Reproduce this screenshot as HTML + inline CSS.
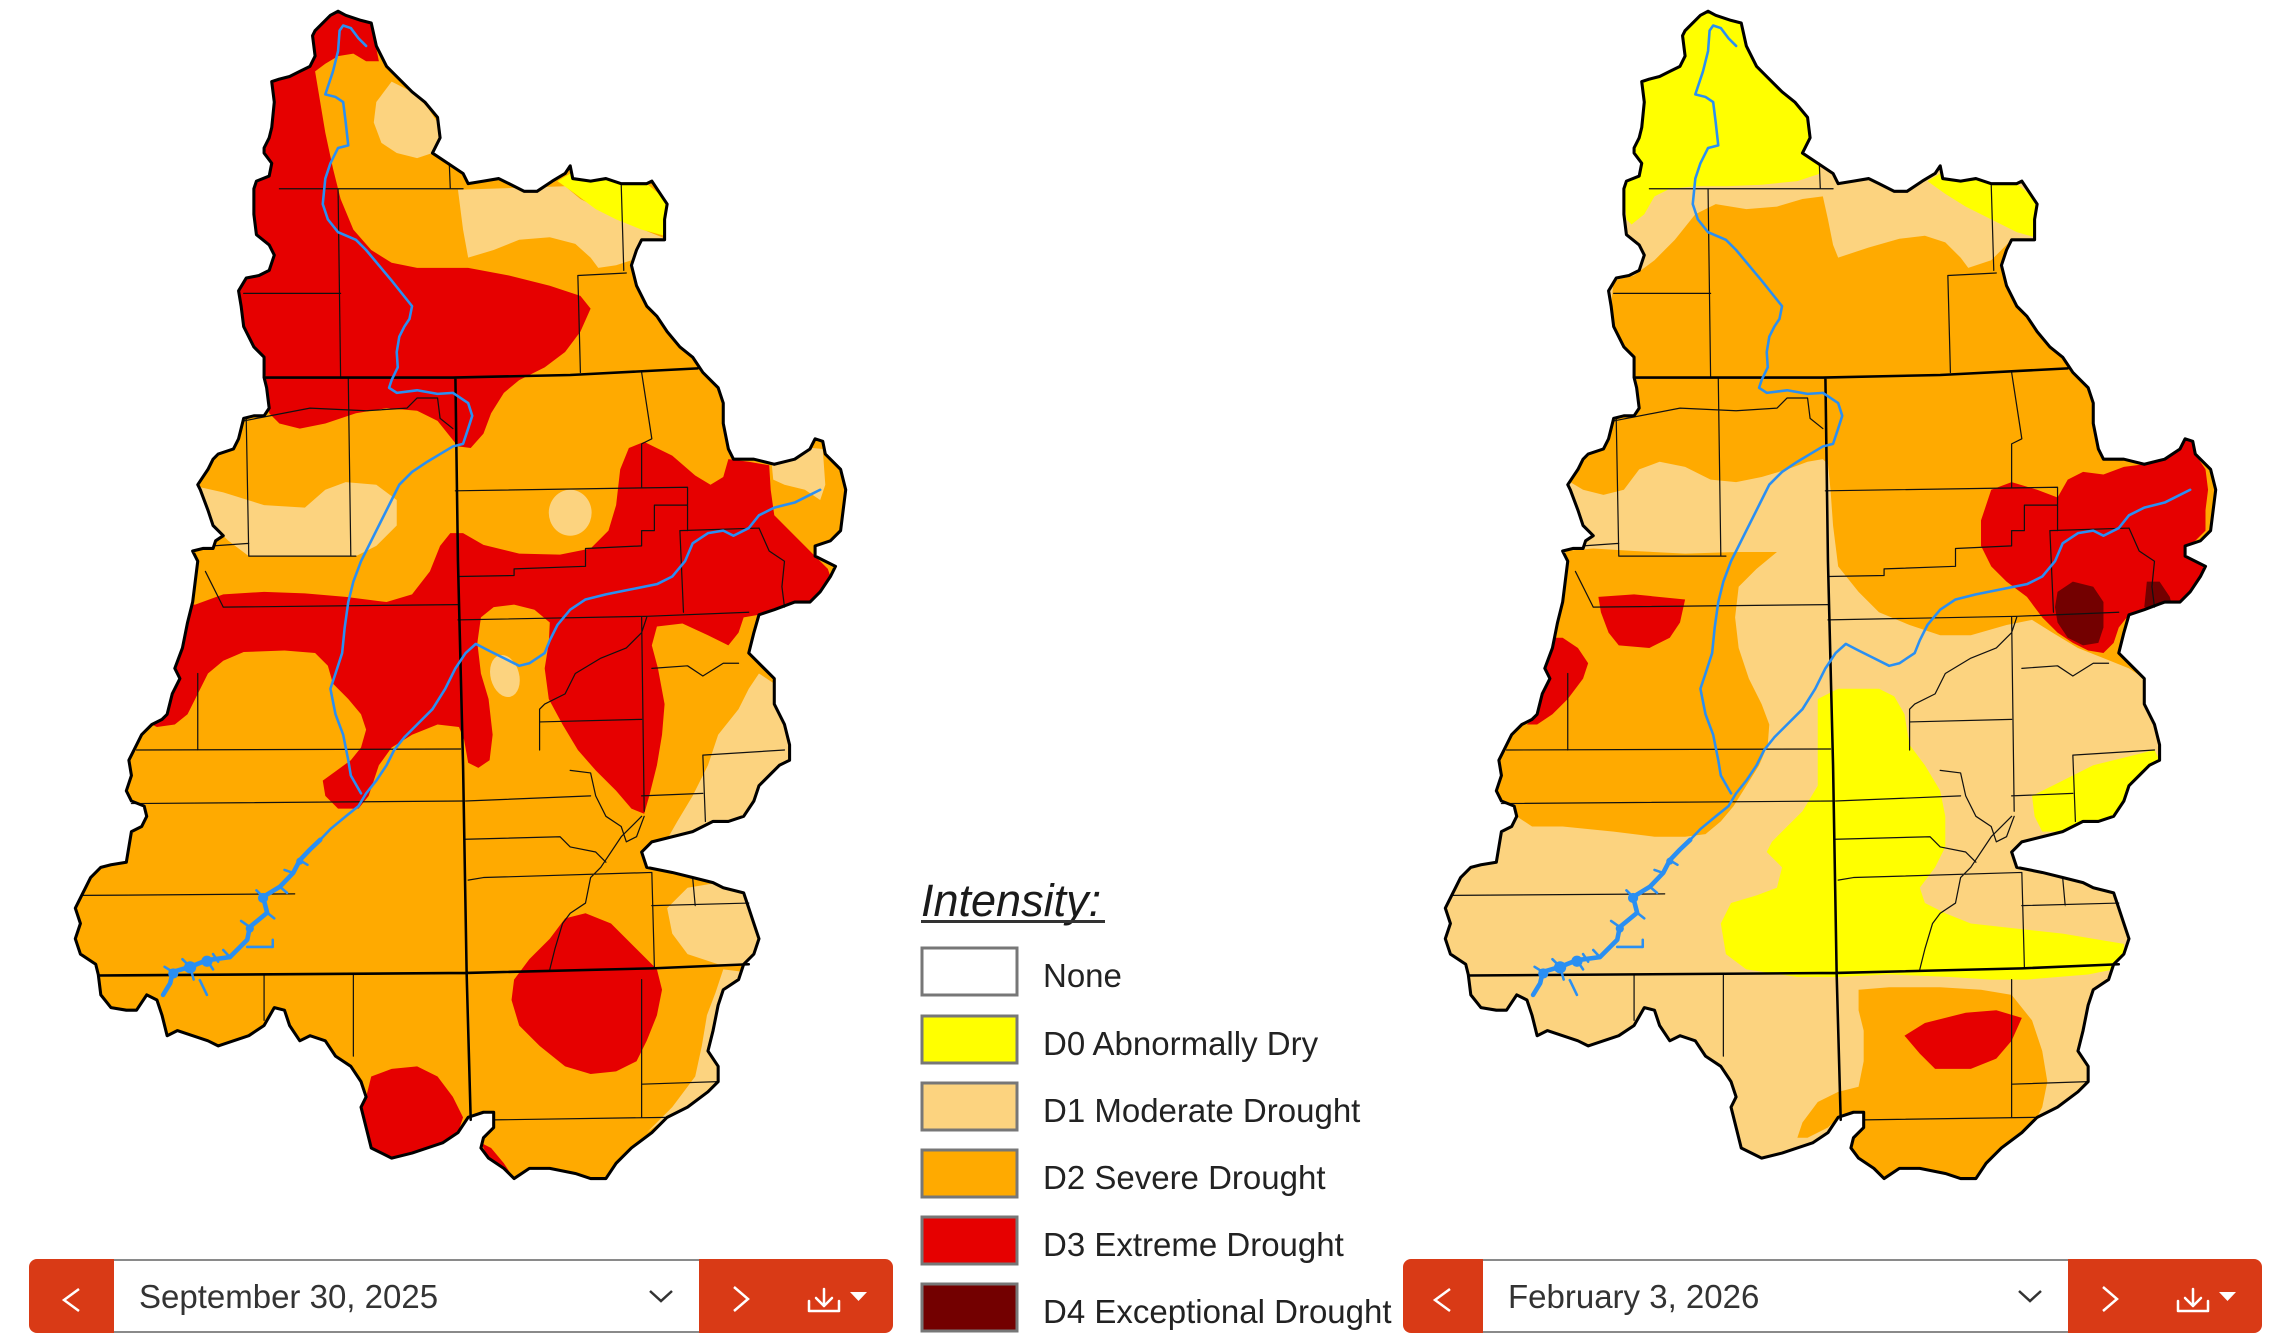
<!DOCTYPE html>
<html>
<head>
<meta charset="utf-8">
<style>
html,body{margin:0;padding:0;background:#fff;overflow:hidden;}
svg{display:block;}
</style>
</head>
<body>
<svg width="2287" height="1342" viewBox="0 0 2287 1342" xmlns="http://www.w3.org/2000/svg">
<defs>
<polygon id="outline" points="500,60 530,30 545,22 560,30 590,40 610,45 620,90 640,130 660,150 690,180 715,200 740,230 745,270 730,300 760,320 790,340 800,360 830,355 860,350 880,360 910,375 935,375 965,355 990,340 1000,325 1005,350 1040,355 1070,350 1100,360 1150,360 1160,355 1180,385 1190,400 1185,430 1185,470 1140,470 1130,490 1120,520 1130,560 1150,600 1170,620 1190,650 1215,680 1240,700 1260,730 1290,760 1300,790 1300,830 1310,880 1320,900 1360,900 1400,910 1440,900 1470,880 1480,860 1495,865 1500,890 1530,920 1540,960 1535,1000 1530,1040 1510,1060 1480,1070 1480,1090 1500,1100 1520,1110 1510,1130 1490,1160 1470,1180 1440,1180 1400,1195 1370,1205 1360,1240 1350,1280 1380,1310 1400,1330 1400,1380 1420,1420 1430,1460 1430,1490 1410,1500 1390,1520 1370,1540 1360,1570 1340,1600 1310,1610 1280,1610 1240,1630 1200,1640 1160,1650 1140,1670 1150,1700 1200,1710 1240,1720 1280,1730 1300,1740 1340,1750 1350,1780 1360,1810 1370,1840 1360,1870 1340,1890 1330,1920 1300,1940 1290,1970 1280,2020 1270,2060 1290,2090 1290,2120 1270,2140 1230,2170 1190,2190 1160,2220 1120,2250 1090,2280 1070,2310 1040,2310 1010,2300 960,2290 920,2290 890,2310 870,2290 840,2270 825,2250 830,2230 850,2210 850,2180 830,2180 800,2190 780,2220 750,2240 720,2250 690,2260 650,2270 610,2250 600,2210 590,2170 600,2150 590,2120 570,2090 540,2070 520,2040 490,2030 470,2040 450,2010 440,1980 420,1975 400,2010 370,2030 340,2040 310,2050 290,2040 260,2030 230,2020 210,2030 200,1990 190,1960 170,1950 150,1980 130,1980 100,1975 80,1950 75,1910 70,1890 40,1870 30,1840 40,1810 30,1780 45,1750 60,1720 80,1700 100,1695 130,1690 135,1660 140,1630 160,1620 170,1600 165,1580 140,1570 130,1550 140,1520 135,1490 150,1460 160,1440 180,1420 200,1410 210,1400 220,1360 235,1330 225,1310 240,1270 250,1220 260,1180 265,1140 270,1100 260,1080 280,1075 300,1075 305,1060 320,1050 300,1030 290,1000 275,960 270,950 290,920 300,900 310,890 340,880 350,860 360,820 380,815 400,815 410,800 405,760 400,740 400,700 380,680 360,640 355,600 350,570 365,545 390,540 410,530 420,500 410,480 385,460 380,420 380,370 385,355 410,345 415,320 400,300 400,290 410,270 415,250 420,200 415,160 430,155 450,150 470,140 490,130 500,110 495,70"/>
<clipPath id="clip"><use href="#outline"/></clipPath>
<g id="lines" fill="none" stroke-linejoin="round" stroke-linecap="round">
  <g stroke="#111" stroke-width="2.4">
    <path d="M430,370 L790,370 M545,370 L550,740 M360,575 L550,575 M763,320 L765,370 M1100,362 L1105,530 M1015,540 L1110,535 M1015,540 L1020,730"/>
    <path d="M565,740 L570,1090 M360,825 L490,800 L600,805 L680,800 L700,780 L740,780 L745,820 L770,840 M365,820 L370,1090 M370,1090 L580,1090 M300,1070 L370,1065 M285,1120 L320,1190 M320,1190 L780,1185 M270,1320 L270,1470 M150,1470 L785,1468 M140,1575 L790,1570 M45,1755 L460,1752"/>
    <path d="M775,962 L1230,955 M1140,730 L1160,860 L1140,870 L1140,955 M1230,955 L1230,1040 M780,1130 L890,1128 L890,1115 L1030,1110 L1030,1075 L1140,1070 L1140,1040 L1165,1040 L1165,990 L1230,990 M1215,1040 L1370,1035 M1215,1040 L1222,1200 M1370,1035 L1390,1080 L1420,1100 L1415,1150 L1420,1190 M780,1215 L1150,1208 L1350,1200 M1150,1210 L1140,1240 L1110,1270 L1060,1290 L1010,1320 L990,1360 L950,1380 L940,1390 M940,1390 L940,1470 M940,1415 L1140,1410 M1140,1210 L1145,1590 M1160,1310 L1230,1305 L1260,1325 L1300,1300 L1330,1300 M1260,1480 L1420,1470 M1260,1480 L1265,1610 M1000,1510 L1040,1515 L1050,1560 L1070,1600 L1100,1620 L1110,1650 L1130,1640 L1145,1600 M1140,1560 L1260,1555 M795,1570 L1040,1560 M795,1645 L980,1640 L1000,1660 L1050,1670 L1070,1690 M1140,1600 L1100,1640 L1060,1700 L1040,1720 L1030,1770 L1000,1790 L985,1810 L970,1860 L960,1900 M800,1725 L830,1720 L1160,1710 M1160,1710 L1165,1895 M1160,1775 L1350,1770 M1240,1720 L1245,1775"/>
    <path d="M400,1910 L400,2000 M575,1910 L575,2070 M1140,1920 L1140,2190 M1140,2125 L1290,2120 M850,2195 L1190,2190"/>
  </g>
  <g stroke="#000" stroke-width="5">
    <path d="M400,740 L770,740 L1000,735 L1250,722 M775,740 L780,1100 L790,1500 L797,1907 L805,2195 M75,1912 L797,1907 L1160,1898 L1350,1890"/>
  </g>
</g>
<g id="river" fill="none" stroke="#2A8FF2" stroke-linejoin="round" stroke-linecap="round">
  <path stroke-width="5" d="M600,90 L585,75 570,55 555,50 548,60 545,100 535,140 520,185 540,190 555,200 560,240 565,285 545,290 530,320 520,350 515,400 525,430 545,455 580,470 600,490 625,520 650,550 670,575 690,600 685,625 675,640 665,660 660,690 662,720 650,745 645,760 660,770 700,765 740,772 770,770 800,790 808,815 800,840 790,870 770,875 745,890 720,905 690,925 665,950 650,980 635,1010 620,1040 605,1070 590,1100 575,1140 565,1180 558,1230 553,1280 540,1320 530,1350 540,1400 555,1440 565,1490 570,1520 590,1555"/>
  <path stroke-width="5" d="M1490,960 L1460,975 1440,985 1400,995 1370,1010 1350,1035 1320,1050 1300,1040 1270,1045 1240,1065 1225,1100 1200,1130 1170,1145 1120,1155 1070,1165 1030,1175 1000,1195 975,1225 960,1255 950,1280 920,1300 900,1305 870,1290 840,1275 815,1262 795,1280 775,1310 755,1350 730,1390 700,1420 675,1445 655,1470 640,1500 620,1530 600,1555 585,1580 560,1600 530,1625 510,1646"/>
  <path stroke-width="9" d="M510,1646 L490,1665 470,1686 457,1711 431,1738 398,1758 406,1789 372,1817 367,1842 333,1876 288,1882 255,1895 221,1905 216,1927 202,1950"/>
  <path stroke-width="5" d="M367,1856 L417,1856 417,1842 M470,1686 L485,1695 M457,1711 L440,1705 M431,1738 L445,1750 M398,1758 L385,1745 M406,1789 L420,1800 M372,1817 L355,1805 M333,1876 L320,1862 M288,1882 L300,1900 M255,1895 L262,1920 M255,1895 L240,1880 M221,1905 L205,1895 M274,1921 L288,1950 M300,1870 L310,1885"/>
  <g fill="#2A8FF2" stroke="none">
    <circle cx="398" cy="1760" r="10"/>
    <circle cx="372" cy="1820" r="8"/>
    <circle cx="288" cy="1884" r="11"/>
    <circle cx="255" cy="1896" r="12"/>
    <circle cx="222" cy="1908" r="10"/>
    <circle cx="470" cy="1688" r="7"/>
  </g>
</g>
</defs>

<!-- LEFT MAP: September 30, 2025 -->
<g transform="translate(60,0) scale(0.5102)">
  <g clip-path="url(#clip)">
    <use href="#outline" fill="#FFAA00"/>
    <g fill="#FCD37F">
      <polygon points="620,200 650,160 690,180 720,210 740,240 745,270 730,300 700,310 660,300 630,280 615,240"/>
      <polygon points="780,372 990,365 1020,390 1080,420 1130,445 1180,465 1185,470 1140,470 1130,490 1120,510 1090,520 1055,525 1040,505 1010,478 960,465 900,470 850,490 800,505 790,450"/>
      <polygon points="275,955 320,965 400,990 480,995 520,960 560,945 620,950 660,980 660,1030 620,1070 580,1090 370,1090 330,1060 300,1030 285,1000"/>
      <ellipse cx="1000" cy="1005" rx="42" ry="45"/>
      <polygon points="1395,910 1440,900 1475,878 1495,880 1500,950 1490,980 1460,960 1420,950 1398,940"/>
      <ellipse cx="872" cy="1325" rx="28" ry="42" transform="rotate(-15 872 1325)"/>
      <polygon points="1370,1320 1400,1340 1400,1380 1420,1420 1430,1460 1430,1490 1390,1520 1370,1540 1360,1570 1340,1600 1310,1610 1280,1610 1240,1630 1190,1645 1210,1610 1240,1560 1270,1500 1290,1440 1330,1390 1350,1350"/>
      <polygon points="1190,1780 1230,1740 1290,1730 1340,1750 1350,1780 1360,1810 1370,1840 1360,1870 1340,1890 1290,1890 1230,1870 1200,1830"/>
      <polygon points="1300,1900 1340,1905 1330,1920 1300,1940 1290,1970 1280,2020 1270,2060 1290,2090 1290,2120 1270,2140 1230,2170 1190,2190 1150,2220 1200,2170 1245,2110 1258,2050 1268,1990 1285,1945"/>
    </g>
    <polygon fill="#FFFF00" points="975,355 1000,340 1040,355 1070,350 1100,360 1150,360 1180,385 1190,400 1185,430 1185,462 1140,450 1090,430 1050,410 1010,380"/>
    <g fill="#E60000">
      <polygon points="505,55 530,30 545,22 590,40 610,45 625,120 600,120 575,105 545,110 520,125 500,140 510,200 520,260 535,330 550,390 575,450 610,490 650,515 700,525 800,525 880,540 960,560 1020,580 1040,605 1020,650 990,690 950,720 900,745 870,770 845,810 830,850 805,878 780,875 760,850 740,825 700,805 640,800 580,810 520,830 470,840 430,830 410,810 405,760 400,700 380,680 360,640 355,600 350,570 365,545 390,540 410,530 420,500 410,480 385,460 380,420 380,370 385,355 410,345 415,320 400,300 400,290 410,270 415,250 420,200 415,160 430,155 450,150 470,140 490,130 500,110 495,70"/>
      <polygon points="265,1185 320,1165 400,1160 480,1163 560,1170 640,1180 690,1165 725,1120 745,1070 765,1045 790,1045 830,1068 900,1085 980,1087 1040,1075 1075,1040 1090,990 1098,920 1115,878 1145,866 1200,893 1245,932 1275,950 1300,935 1310,900 1350,905 1390,912 1393,960 1400,1010 1440,1050 1475,1085 1505,1115 1510,1130 1490,1160 1470,1180 1440,1180 1400,1195 1370,1205 1340,1210 1330,1240 1310,1265 1270,1245 1220,1222 1170,1228 1160,1265 1172,1310 1185,1380 1180,1440 1170,1500 1155,1560 1145,1595 1120,1585 1090,1550 1050,1510 1015,1470 985,1420 958,1370 950,1310 958,1260 960,1220 930,1195 890,1185 850,1190 825,1210 818,1260 825,1320 840,1370 848,1440 842,1490 820,1505 800,1495 792,1450 782,1425 740,1420 690,1440 650,1465 625,1500 605,1560 585,1585 545,1585 520,1560 515,1530 540,1512 570,1490 590,1465 600,1430 590,1400 565,1370 535,1340 525,1305 500,1280 440,1275 360,1278 320,1295 290,1320 270,1360 250,1400 225,1420 190,1425 180,1420 200,1410 210,1400 220,1360 235,1330 225,1310 240,1270 250,1220 260,1185"/>
      <polygon points="920,1880 960,1840 990,1800 1030,1790 1080,1810 1130,1860 1170,1900 1180,1940 1170,1990 1150,2040 1130,2080 1090,2100 1040,2105 990,2090 940,2050 900,2010 885,1960 890,1920"/>
      <polygon points="610,2110 650,2095 700,2090 740,2110 770,2150 790,2190 780,2220 750,2240 720,2250 690,2260 650,2270 610,2250 600,2210 590,2170 600,2150"/>
      <polygon points="825,2240 845,2250 870,2280 890,2310 870,2290 840,2270"/>
    </g>
  </g>
  <use href="#lines"/>
  <use href="#outline" fill="none" stroke="#000" stroke-width="6" stroke-linejoin="round"/>
  <use href="#river"/>
</g>

<!-- RIGHT MAP: February 3, 2026 -->
<g transform="translate(1430,0) scale(0.5102)">
  <g clip-path="url(#clip)">
    <use href="#outline" fill="#FCD37F"/>
    <g fill="#FFFF00">
      <polygon points="500,60 530,30 545,22 560,30 590,40 610,45 620,90 640,130 660,150 690,180 715,200 740,230 745,270 730,300 760,320 765,340 720,355 650,362 580,365 520,365 470,370 440,385 420,420 395,440 385,430 380,370 385,355 410,345 415,320 400,300 400,290 410,270 415,250 420,200 415,160 430,155 450,150 470,140 490,130 500,110 495,70"/>
      <polygon points="975,355 1000,340 1040,355 1070,350 1100,360 1150,360 1180,385 1190,400 1185,430 1185,465 1150,455 1100,430 1050,405 1010,380"/>
    </g>
    <g fill="#FFAA00">
      <polygon points="360,550 355,600 360,640 380,680 400,700 400,740 405,760 410,800 400,815 380,815 360,820 350,860 340,880 310,890 300,900 290,920 275,945 300,960 340,970 380,960 410,920 450,905 500,915 550,940 600,945 650,935 700,920 740,905 770,900 780,910 785,960 790,1030 800,1110 840,1160 880,1200 940,1225 1000,1245 1060,1245 1130,1225 1180,1215 1220,1240 1270,1270 1320,1290 1370,1310 1400,1330 1380,1310 1350,1280 1360,1240 1370,1205 1400,1195 1440,1180 1470,1180 1490,1160 1510,1130 1520,1110 1500,1100 1480,1090 1480,1070 1510,1060 1530,1040 1535,1000 1540,960 1530,920 1500,890 1495,865 1480,860 1470,880 1440,900 1400,910 1360,900 1320,900 1310,880 1300,830 1300,790 1290,760 1260,730 1240,700 1215,680 1190,650 1170,620 1150,600 1130,560 1120,520 1130,490 1140,470 1100,510 1055,525 1040,505 1010,475 970,462 920,468 860,485 800,505 790,480 780,430 770,385 730,390 680,405 620,410 560,400 520,420 480,470 440,510 400,540"/>
      <polygon points="265,1080 320,1075 400,1080 500,1085 600,1082 680,1082 640,1115 605,1150 598,1210 605,1270 625,1330 650,1380 665,1420 662,1460 645,1500 620,1540 595,1580 570,1610 540,1635 500,1640 440,1640 360,1630 260,1620 200,1620 170,1600 165,1580 140,1570 130,1550 140,1520 135,1490 150,1460 160,1440 180,1420 200,1410 210,1400 220,1360 235,1330 225,1310 240,1270 250,1220 260,1180 265,1140 270,1100"/>
      <polygon points="840,1940 900,1935 1000,1935 1080,1940 1140,1950 1180,2000 1200,2060 1210,2120 1200,2170 1190,2190 1160,2220 1120,2250 1090,2280 1070,2310 1040,2310 1010,2300 960,2290 920,2290 890,2310 870,2290 840,2270 825,2250 830,2230 850,2210 850,2180 830,2180 800,2190 780,2210 760,2220 740,2230 720,2230 730,2200 760,2160 800,2140 840,2130 850,2080 850,2020 840,1980"/>
    </g>
    <g fill="#FFFF00">
      <polygon points="760,1370 800,1350 880,1350 910,1365 930,1400 940,1460 970,1500 1000,1550 1010,1600 1010,1660 990,1700 960,1740 970,1770 1010,1790 1060,1810 1150,1820 1240,1830 1300,1840 1360,1850 1360,1880 1340,1900 1290,1910 1230,1915 1170,1920 1100,1920 1020,1915 900,1910 800,1915 720,1915 620,1900 580,1870 570,1810 590,1770 640,1755 680,1740 690,1700 660,1670 670,1650 700,1620 730,1590 760,1540 760,1480 760,1420"/>
      <polygon points="1180,1560 1220,1540 1260,1520 1300,1500 1380,1480 1420,1470 1430,1490 1410,1500 1390,1520 1370,1540 1360,1570 1340,1600 1310,1610 1280,1610 1240,1630 1200,1630 1185,1600"/>
    </g>
    <g fill="#E60000">
      <polygon points="330,1170 400,1165 500,1175 490,1220 470,1250 430,1270 370,1265 350,1240 335,1200"/>
      <polygon points="230,1250 260,1250 290,1270 310,1300 300,1330 270,1370 240,1400 210,1420 190,1420 210,1400 220,1360 235,1330 225,1310 240,1270"/>
      <polygon points="1100,960 1140,945 1190,960 1230,975 1250,940 1280,925 1320,930 1360,915 1400,910 1440,900 1470,880 1480,860 1495,865 1500,890 1520,920 1525,960 1520,1000 1520,1040 1500,1060 1480,1070 1480,1090 1500,1100 1520,1110 1510,1130 1490,1160 1470,1180 1440,1180 1400,1195 1370,1205 1350,1230 1340,1260 1320,1280 1290,1275 1260,1260 1230,1240 1200,1210 1170,1170 1130,1140 1100,1110 1080,1070 1080,1020"/>
      <polygon points="930,2030 970,2005 1050,1985 1110,1980 1160,1995 1140,2040 1110,2075 1060,2095 990,2095 960,2065"/>
    </g>
    <g fill="#730000">
      <polygon points="1230,1160 1260,1140 1300,1150 1320,1180 1320,1230 1310,1260 1280,1265 1250,1250 1230,1220 1225,1190"/>
      <polygon points="1405,1140 1430,1140 1450,1170 1455,1190 1420,1195 1400,1190"/>
    </g>
  </g>
  <use href="#lines"/>
  <use href="#outline" fill="none" stroke="#000" stroke-width="6" stroke-linejoin="round"/>
  <use href="#river"/>
</g>

<!-- LEGEND -->
<g font-family="'Liberation Sans', Arial, sans-serif">
  <text x="921" y="916" font-size="45" font-style="italic" fill="#1a1a1a">Intensity:</text>
  <rect x="921" y="920" width="184" height="3" fill="#333"/>
  <g stroke="#777" stroke-width="3">
    <rect x="922" y="948" width="95" height="47" fill="#FFFFFF"/>
    <rect x="922" y="1016" width="95" height="47" fill="#FFFF00"/>
    <rect x="922" y="1083" width="95" height="47" fill="#FCD37F"/>
    <rect x="922" y="1150" width="95" height="47" fill="#FFAA00"/>
    <rect x="922" y="1217" width="95" height="47" fill="#E60000"/>
    <rect x="922" y="1284" width="95" height="47" fill="#730000"/>
  </g>
  <g font-size="33" fill="#222">
    <text x="1043" y="987">None</text>
    <text x="1043" y="1055">D0 Abnormally Dry</text>
    <text x="1043" y="1122">D1 Moderate Drought</text>
    <text x="1043" y="1189">D2 Severe Drought</text>
    <text x="1043" y="1256">D3 Extreme Drought</text>
    <text x="1043" y="1323">D4 Exceptional Drought</text>
  </g>
</g>

<!-- DATE BARS -->
<g id="bar1">
  <path d="M37,1259 H114 V1333 H37 A8,8 0 0 1 29,1325 V1267 A8,8 0 0 1 37,1259 Z" fill="#D93A16"/>
  <rect x="114" y="1259" width="585" height="74" fill="#fff"/>
  <rect x="114" y="1259" width="585" height="2" fill="#8a8a8a"/>
  <rect x="114" y="1331" width="585" height="2" fill="#8a8a8a"/>
  <path d="M699,1259 H885 A8,8 0 0 1 893,1267 V1325 A8,8 0 0 1 885,1333 H699 Z" fill="#D93A16"/>
  <polyline points="79,1289 64,1300 79,1311" fill="none" stroke="#fff" stroke-width="2.5"/>
  <text x="139" y="1308" font-family="'Liberation Sans', Arial, sans-serif" font-size="33" fill="#333">September 30, 2025</text>
  <polyline points="650,1291 661,1301 672,1291" fill="none" stroke="#333" stroke-width="2.5"/>
  <polyline points="734,1287 748,1299 734,1311" fill="none" stroke="#fff" stroke-width="2.5"/>
  <g fill="none" stroke="#fff" stroke-width="2.5" stroke-linejoin="round" stroke-linecap="round">
    <path d="M824,1289 V1306 M816,1298 L824,1306 L832,1298"/>
    <path d="M809,1301 V1311 H839 V1301"/>
  </g>
  <polygon points="850,1292 867,1292 858.5,1301" fill="#fff"/>
</g>
<g id="bar2">
  <path d="M1411,1259 H1483 V1333 H1411 A8,8 0 0 1 1403,1325 V1267 A8,8 0 0 1 1411,1259 Z" fill="#D93A16"/>
  <rect x="1483" y="1259" width="585" height="74" fill="#fff"/>
  <rect x="1483" y="1259" width="585" height="2" fill="#8a8a8a"/>
  <rect x="1483" y="1331" width="585" height="2" fill="#8a8a8a"/>
  <path d="M2068,1259 H2254 A8,8 0 0 1 2262,1267 V1325 A8,8 0 0 1 2254,1333 H2068 Z" fill="#D93A16"/>
  <polyline points="1450,1289 1435,1300 1450,1311" fill="none" stroke="#fff" stroke-width="2.5"/>
  <text x="1508" y="1308" font-family="'Liberation Sans', Arial, sans-serif" font-size="33" fill="#333">February 3, 2026</text>
  <polyline points="2019,1291 2030,1301 2041,1291" fill="none" stroke="#333" stroke-width="2.5"/>
  <polyline points="2103,1287 2117,1299 2103,1311" fill="none" stroke="#fff" stroke-width="2.5"/>
  <g fill="none" stroke="#fff" stroke-width="2.5" stroke-linejoin="round" stroke-linecap="round">
    <path d="M2193,1289 V1306 M2185,1298 L2193,1306 L2201,1298"/>
    <path d="M2178,1301 V1311 H2208 V1301"/>
  </g>
  <polygon points="2219,1292 2236,1292 2227.5,1301" fill="#fff"/>
</g>
</svg>
</body>
</html>
